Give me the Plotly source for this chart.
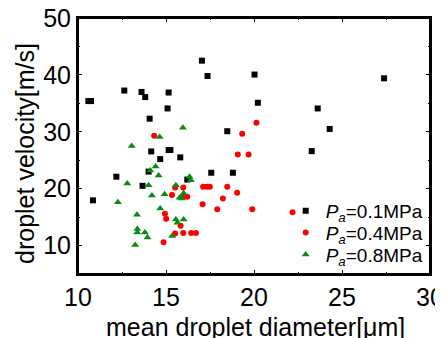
import plotly.graph_objects as go

# Pa = 0.1 MPa (black squares)
x_01 = [10.59, 10.74, 10.85, 12.18, 12.63, 13.61, 13.67, 13.82, 14.01, 14.07, 14.16, 14.67,
        15.09, 15.15, 15.15, 15.25, 15.81, 16.21, 17.04, 17.36, 17.57, 18.48, 18.80, 20.03,
        20.22, 23.28, 23.62, 24.30, 27.39]
y_01 = [35.4, 35.4, 17.95, 22.1, 37.25, 37.0, 20.5, 36.1, 23.0, 32.3, 26.55, 25.2,
        34.1, 36.9, 26.8, 26.8, 25.5, 21.6, 42.5, 39.8, 22.8, 30.1, 22.8, 40.06,
        35.1, 26.6, 34.1, 30.5, 39.4]

# Pa = 0.4 MPa (red circles)
x_04 = [14.33, 14.86, 14.94, 15.01, 15.34, 15.52, 15.52, 15.83, 15.98, 15.98, 15.98, 16.21,
        16.43, 16.70, 17.08, 17.11, 17.32, 17.49, 17.91, 18.23, 18.48, 19.04, 19.08, 19.33,
        19.69, 19.90, 20.14, 22.19]
y_04 = [29.3, 10.6, 15.6, 14.7, 18.9, 20.2, 12.1, 13.5, 20.2, 18.6, 12.2, 18.6,
        12.2, 12.2, 17.25, 20.35, 20.35, 20.35, 16.4, 18.25, 20.35, 19.3, 26.0, 29.65,
        26.0, 16.4, 31.6, 15.85]

# Pa = 0.8 MPa (green triangles)
x_08 = [12.27, 12.80, 13.05, 13.35, 13.37, 13.37, 13.25, 13.80, 13.95, 14.01, 14.10, 14.20,
        14.41, 14.58, 14.64, 14.67, 14.92, 15.35, 15.56, 15.56, 15.65, 15.77, 15.90, 15.96,
        16.00, 16.00, 16.34, 16.41]
y_08 = [17.6, 20.9, 27.5, 15.4, 12.9, 12.3, 10.1, 12.3, 11.4, 20.6, 23.2, 18.8,
        23.9, 22.3, 29.1, 16.5, 19.0, 11.7, 20.6, 14.6, 14.0, 18.4, 18.25, 30.7,
        19.2, 14.6, 22.1, 21.5]

series_names = ["<i>P</i><sub><i>a</i></sub>=0.1MPa",
                "<i>P</i><sub><i>a</i></sub>=0.4MPa",
                "<i>P</i><sub><i>a</i></sub>=0.8MPa"]
x_title = "mean droplet diameter[μm]"
y_title = "droplet velocity[m/s]"

FONT = "Liberation Sans, Arial, sans-serif"

fig = go.Figure()
fig.add_trace(go.Scatter(x=x_01, y=y_01, mode="markers", name=series_names[0], legend="legend",
                         marker=dict(symbol="square", size=6, color="black")))
fig.add_trace(go.Scatter(x=x_04, y=y_04, mode="markers", name=series_names[1], legend="legend2",
                         marker=dict(symbol="circle", size=6, color="#ff0000")))
fig.add_trace(go.Scatter(x=x_08, y=y_08, mode="markers", name=series_names[2], legend="legend3",
                         marker=dict(symbol="triangle-up", size=7, color="#0a8a14")))

axis_common = dict(showline=True, linecolor="black", linewidth=2, mirror="allticks",
                   ticks="inside", ticklen=4, tickwidth=1, tickcolor="black",
                   showgrid=False, zeroline=False, automargin=False,
                   ticklabeloverflow="allow",
                   tickfont=dict(family=FONT, size=25, color="black"))

fig.update_xaxes(range=[10, 30], dtick=5, tick0=10,
                 minor=dict(ticks="inside", ticklen=2, dtick=2.5, tick0=10, tickcolor="black", showgrid=False),
                 **axis_common)
fig.update_yaxes(range=[5, 50], dtick=10, tick0=10,
                 minor=dict(ticks="inside", ticklen=2, dtick=5, tick0=5, tickcolor="black", showgrid=False),
                 **axis_common)

# frame around the plotting area
fig.add_shape(type="rect", xref="paper", yref="paper", x0=0, y0=0, x1=1, y1=1,
              line=dict(color="black", width=2), fillcolor="rgba(0,0,0,0)", layer="above")

fig.add_annotation(text=x_title, xref="paper", yref="paper", x=0.503, y=-0.207,
                   xanchor="center", yanchor="middle", showarrow=False,
                   font=dict(family=FONT, size=25, color="black"))
fig.add_annotation(text=y_title, xref="paper", yref="paper", x=-0.1506, y=0.4727,
                   xanchor="center", yanchor="middle", showarrow=False, textangle=-90,
                   font=dict(family=FONT, size=25, color="black"))

leg_common = dict(xanchor="left", yanchor="middle", bgcolor="rgba(0,0,0,0)", borderwidth=0,
                  font=dict(family=FONT, size=19, color="black"), itemwidth=30)

# the page body has an 8px default margin: keep the full size, shift the margins
fig.update_layout(
    width=443, height=338,
    margin=dict(l=70, r=21, t=10, b=72, autoexpand=False),
    plot_bgcolor="white", paper_bgcolor="white",
    showlegend=True,
    legend=dict(x=0.59, y=0.246, **leg_common),
    legend2=dict(x=0.59, y=0.162, **leg_common),
    legend3=dict(x=0.59, y=0.076, **leg_common),
)

fig.write_html("out.html")
